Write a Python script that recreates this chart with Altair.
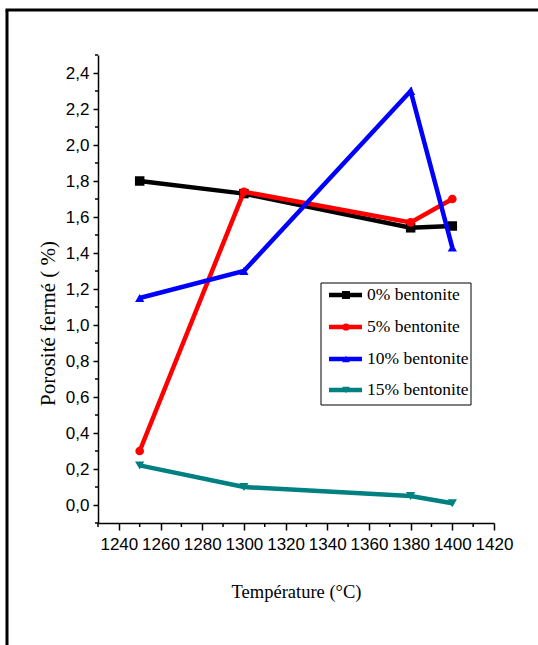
import altair as alt
import pandas as pd

# Sintering temperatures (°C) and closed porosity (%) for each bentonite content
temperatures = [1250, 1300, 1380, 1400]
series_names = ["0% bentonite", "5% bentonite", "10% bentonite", "15% bentonite"]
porosity_0 = [1.80, 1.73, 1.54, 1.55]
porosity_5 = [0.30, 1.74, 1.57, 1.70]
porosity_10 = [1.15, 1.30, 2.30, 1.43]
porosity_15 = [0.22, 0.10, 0.05, 0.01]

x_major_ticks = [1240, 1260, 1280, 1300, 1320, 1340, 1360, 1380, 1400, 1420]
x_minor_ticks = [1230, 1250, 1270, 1290, 1310, 1330, 1350, 1370, 1390, 1410]
y_major_ticks = [0.0, 0.2, 0.4, 0.6, 0.8, 1.0, 1.2, 1.4, 1.6, 1.8, 2.0, 2.2, 2.4]
y_minor_ticks = [-0.1, 0.1, 0.3, 0.5, 0.7, 0.9, 1.1, 1.3, 1.5, 1.7, 1.9, 2.1, 2.3, 2.5]

series_values = [porosity_0, porosity_5, porosity_10, porosity_15]
colors = ["#000000", "#ff0000", "#0000ff", "#008080"]
shapes = ["square", "circle", "triangle-up", "triangle-down"]
marker_sizes = [90, 75, 85, 85]

W, H = 396, 468
SANS = "Liberation Sans, Arial, sans-serif"
SERIF = "Liberation Serif, Times New Roman, serif"

x_scale = alt.Scale(domain=[1230, 1420], nice=False, zero=False)
y_scale = alt.Scale(domain=[-0.1, 2.5], nice=False, zero=False)

x_axis = alt.Axis(
    values=x_major_ticks, format="d", grid=False,
    tickSize=7, tickWidth=1.5, tickColor="black",
    domainColor="black", domainWidth=1.5,
    labelFont=SANS, labelFontSize=17, labelColor="black", labelPadding=6,
    labelFlush=False,
    title="Température (°C)", titleFont=SERIF, titleFontSize=18.5,
    titleFontWeight="normal", titleColor="black",
    titleY=68, titleBaseline="middle",
)
y_axis = alt.Axis(
    values=y_major_ticks, grid=False,
    labelExpr="replace(format(datum.value, '.1f'), '.', ',')",
    tickSize=5, tickWidth=1.5, tickColor="black",
    domainColor="black", domainWidth=1.5,
    labelFont=SANS, labelFontSize=17, labelColor="black", labelPadding=4,
    labelFlush=False,
    title="Porosité fermé ( %)", titleFont=SERIF, titleFontSize=21,
    titleFontWeight="normal", titleColor="black",
    titleAngle=270, titleX=-50, titleY=268,
    titleAlign="center", titleBaseline="middle",
)

layers = []

# minor ticks on both axes
x_minor = pd.DataFrame({"t": x_minor_ticks})
layers.append(
    alt.Chart(x_minor).mark_rule(color="black", strokeWidth=1.5).encode(
        x=alt.X("t:Q", scale=x_scale, axis=x_axis),
        y=alt.value(H), y2=alt.value(H + 4),
    )
)
y_minor = pd.DataFrame({"v": y_minor_ticks})
layers.append(
    alt.Chart(y_minor).mark_rule(color="black", strokeWidth=1.5).encode(
        y=alt.Y("v:Q", scale=y_scale, axis=y_axis),
        x=alt.value(0), x2=alt.value(-3),
    )
)

# one line + marker layer per series
for name, vals, col, shp, sz in zip(series_names, series_values, colors, shapes, marker_sizes):
    df = pd.DataFrame({"T": temperatures, "P": vals, "series": name})
    enc = dict(
        x=alt.X("T:Q", scale=x_scale, axis=x_axis),
        y=alt.Y("P:Q", scale=y_scale, axis=y_axis),
    )
    layers.append(alt.Chart(df).mark_line(color=col, strokeWidth=4.5).encode(**enc))
    layers.append(
        alt.Chart(df).mark_point(filled=True, opacity=1, color=col, shape=shp, size=sz).encode(**enc)
    )

# legend box
one = pd.DataFrame({"k": [0]})
layers.append(
    alt.Chart(one).mark_rect(fill="white", stroke="black", strokeWidth=1).encode(
        x=alt.value(223), x2=alt.value(373), y=alt.value(228), y2=alt.value(350)
    )
)
entry_y = [240, 272, 304, 335]
for name, col, shp, sz, yy in zip(series_names, colors, shapes, marker_sizes, entry_y):
    d = pd.DataFrame({"series": [name]})
    layers.append(
        alt.Chart(d).mark_rule(color=col, strokeWidth=4.5).encode(
            x=alt.value(231), x2=alt.value(264), y=alt.value(yy)
        )
    )
    layers.append(
        alt.Chart(d).mark_point(filled=True, opacity=1, color=col, shape=shp, size=sz * 0.7).encode(
            x=alt.value(248), y=alt.value(yy)
        )
    )
    layers.append(
        alt.Chart(d).mark_text(font=SERIF, fontSize=17.5, align="left", baseline="middle", color="black").encode(
            x=alt.value(269), y=alt.value(yy), text="series:N"
        )
    )

# page frame (left and top edges)
layers.append(
    alt.Chart(one).mark_rule(color="black", strokeWidth=3).encode(
        x=alt.value(-91), y=alt.value(-45), y2=alt.value(600)
    )
)
layers.append(
    alt.Chart(one).mark_rule(color="black", strokeWidth=3).encode(
        x=alt.value(-92.5), x2=alt.value(450), y=alt.value(-45)
    )
)

chart = (
    alt.layer(*layers)
    .properties(
        width=W, height=H,
        autosize=alt.AutoSizeParams(type="none"),
        padding={"left": 98, "top": 55, "right": 44, "bottom": 122},
        background="white",
    )
    .configure_view(stroke=None)
)

chart.save("out.html", embed_options={"renderer": "svg", "actions": False})
